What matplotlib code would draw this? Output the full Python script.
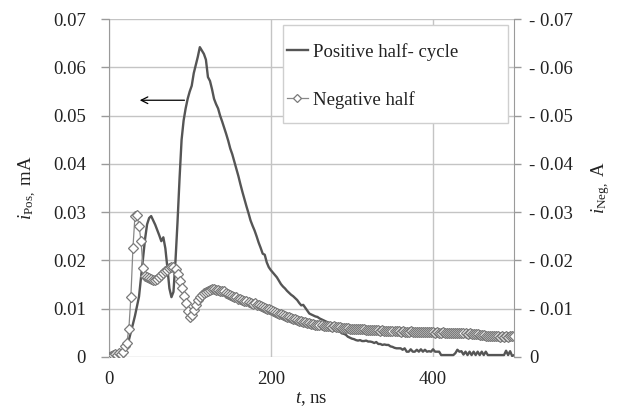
import numpy as np
import matplotlib
matplotlib.use("Agg")
import matplotlib.pyplot as plt
from matplotlib.ticker import FuncFormatter
from matplotlib.patches import Rectangle

plt.rcParams['font.family'] = ['Liberation Serif', 'DejaVu Serif']
plt.rcParams['mathtext.fontset'] = 'custom'
plt.rcParams['mathtext.rm'] = 'Liberation Serif'
plt.rcParams['mathtext.it'] = 'Liberation Serif:italic'

# sampling time, ns (2.5 ns step)
t_ns = np.arange(0, 500.01, 2.5)

# positive half-cycle current
i_pos = [
    0, 0.0002, 0.0004, 0.0005, 0.0005, 0.0007, 0.0008, 0.001, 0.0015, 0.0022,
    0.0035, 0.0052, 0.0068, 0.0085, 0.0105, 0.0125, 0.0165, 0.0205, 0.0245, 0.0275,
    0.0288, 0.0292, 0.0283, 0.0274, 0.0263, 0.0252, 0.024, 0.0248, 0.0225, 0.0185,
    0.0142, 0.0124, 0.0135, 0.02, 0.028, 0.037, 0.045, 0.049, 0.0515, 0.0535,
    0.055, 0.0562, 0.0588, 0.0605, 0.0622, 0.0642, 0.0635, 0.0628, 0.0616, 0.058,
    0.0572, 0.0555, 0.0535, 0.0524, 0.0515, 0.05, 0.0488, 0.0475, 0.0462, 0.0448,
    0.0432, 0.042, 0.0405, 0.039, 0.0375, 0.0358, 0.0342, 0.0327, 0.0312, 0.0298,
    0.0283, 0.0272, 0.0262, 0.025, 0.0237, 0.0226, 0.0214, 0.0212, 0.0196, 0.0186,
    0.018, 0.0175, 0.017, 0.0165, 0.0158, 0.0151, 0.0146, 0.0142, 0.0137, 0.0133,
    0.0129, 0.0126, 0.0122, 0.0118, 0.0112, 0.0107, 0.0108, 0.0102, 0.0096, 0.009,
    0.0088, 0.0086, 0.0084, 0.0083, 0.008, 0.0078, 0.0076, 0.0074, 0.0072, 0.007,
    0.0068, 0.0066, 0.0058, 0.0054, 0.0053, 0.0049, 0.0048, 0.0046, 0.0042, 0.004,
    0.0038, 0.0037, 0.0035, 0.0034, 0.0035, 0.0033, 0.0033, 0.0034, 0.0032, 0.0032,
    0.0031, 0.0029, 0.0031, 0.0027, 0.0027, 0.0025, 0.0026, 0.0025, 0.0025, 0.0022,
    0.0021, 0.0019, 0.0018, 0.0018, 0.0018, 0.0015, 0.0018, 0.0011, 0.0011, 0.0016,
    0.0011, 0.0011, 0.0015, 0.0011, 0.0016, 0.0011, 0.0015, 0.0011, 0.0012, 0.0011,
    0.0016, 0.0011, 0.0011, 0.0011, 0.0004, 0.0004, 0.0004, 0.0004, 0.0004, 0.0004,
    0.0004, 0.0008, 0.0015, 0.0011, 0.0012, 0.0005, 0.0011, 0.0004, 0.0011, 0.0004,
    0.0011, 0.0004, 0.0011, 0.0004, 0.0011, 0.0004, 0.0011, 0.0004, 0.0004, 0.0004,
    0.0004, 0.0004, 0.0004, 0.0004, 0.0004, 0.0004, 0.0013, 0.0004, 0.0012, 0.0002,
    0.0004,
]

# negative half-cycle current (magnitude)
i_neg = [
    0, 0.0002, 0.0005, 0.0006, 0.0005, 0.0008, 0.0007, 0.001, 0.0022, 0.003,
    0.0058, 0.0125, 0.0225, 0.0292, 0.0295, 0.0272, 0.024, 0.0185, 0.0168, 0.0165,
    0.0164, 0.0162, 0.0159, 0.016, 0.0162, 0.0166, 0.0169, 0.0174, 0.0178, 0.0181,
    0.0184, 0.0186, 0.0186, 0.0183, 0.0172, 0.0158, 0.0142, 0.0126, 0.0112, 0.0096,
    0.0083, 0.0086, 0.0098, 0.0108, 0.0118, 0.0125, 0.0129, 0.0132, 0.0135, 0.0137,
    0.0139, 0.014, 0.014, 0.0139, 0.0138, 0.0137, 0.0136, 0.0137, 0.0133, 0.013,
    0.0128, 0.0126, 0.0125, 0.0124, 0.0121, 0.012, 0.0118, 0.0116, 0.0115, 0.0113,
    0.0112, 0.011, 0.0111, 0.0108, 0.0107, 0.0106, 0.0104, 0.0102, 0.01, 0.0099,
    0.0097, 0.0096, 0.0094, 0.0092, 0.009, 0.0089, 0.0087, 0.0085, 0.0083, 0.0082,
    0.0081, 0.0079, 0.0078, 0.0077, 0.0075, 0.0074, 0.0073, 0.0072, 0.0071, 0.007,
    0.0069, 0.0068, 0.0067, 0.0067, 0.0066, 0.0066, 0.0065, 0.0065, 0.0064, 0.0064,
    0.0063, 0.0064, 0.0063, 0.0062, 0.0062, 0.0061, 0.0061, 0.006, 0.006, 0.0059,
    0.0059, 0.0058, 0.0059, 0.0058, 0.0057, 0.0057, 0.0057, 0.0056, 0.0056, 0.0056,
    0.0055, 0.0056, 0.0055, 0.0055, 0.0054, 0.0055, 0.0054, 0.0054, 0.0054, 0.0053,
    0.0054, 0.0053, 0.0053, 0.0053, 0.0052, 0.0053, 0.0052, 0.0052, 0.0052, 0.0053,
    0.0052, 0.0052, 0.0051, 0.0052, 0.0051, 0.0051, 0.0051, 0.0052, 0.0051, 0.0051,
    0.0051, 0.005, 0.0051, 0.005, 0.005, 0.0051, 0.005, 0.005, 0.005, 0.0049,
    0.005, 0.0049, 0.0049, 0.005, 0.0049, 0.0049, 0.0049, 0.0048, 0.0049, 0.0048,
    0.0048, 0.0048, 0.0047, 0.0046, 0.0045, 0.0045, 0.0044, 0.0044, 0.0043, 0.0043,
    0.0044, 0.0043, 0.0043, 0.0042, 0.0043, 0.0042, 0.0043, 0.0042, 0.0043, 0.0043,
    0.0044,
]

x_ticks = [0, 200, 400]
y_ticks = [0, 0.01, 0.02, 0.03, 0.04, 0.05, 0.06, 0.07]

FS = 13.5
TXT = '#222222'
GRID = '#c4c4c4'
SPINE = '#9a9a9a'

W, H = 624, 413
fig = plt.figure(figsize=(W / 100, H / 100), dpi=100)
ax = fig.add_axes([0.174, 0.1356, 0.650, 0.818])
ax2 = ax.twinx()

ax.plot(t_ns, i_pos, color='#555555', lw=1.7, zorder=3, label='Positive half- cycle')
ax2.plot(t_ns, -np.asarray(i_neg), color='#888888', lw=0.9,
         marker='D', markersize=5.3, markerfacecolor='white',
         markeredgecolor='#7a7a7a', markeredgewidth=0.9,
         label='Negative half')

ax.set_xlim(0, 500)
ax.set_ylim(0, 0.07)
ax2.set_ylim(0, -0.07)

ax.set_xticks(x_ticks)
ax.set_yticks(y_ticks)
ax2.set_yticks([-v for v in y_ticks])
ax.yaxis.set_major_formatter(FuncFormatter(lambda v, p: '0' if abs(v) < 1e-9 else f'{v:.2f}'))
ax2.yaxis.set_major_formatter(FuncFormatter(lambda v, p: '0' if abs(v) < 1e-9 else f'- {abs(v):.2f}'))

ax.grid(True, color=GRID, lw=1.0)
ax.set_axisbelow(True)

for a in (ax, ax2):
    for s in a.spines.values():
        s.set_visible(False)
ax.spines['left'].set_visible(True)
ax.spines['left'].set_color(SPINE)
ax2.spines['right'].set_visible(True)
ax2.spines['right'].set_color(SPINE)

ax.tick_params(axis='y', direction='out', length=6, width=1, color=SPINE,
               pad=10.5, labelsize=FS, labelcolor=TXT)
ax.tick_params(axis='x', length=0, pad=10, labelsize=FS, labelcolor=TXT)
ax2.tick_params(axis='y', direction='out', length=5, width=1, color=SPINE,
                pad=5.5, labelsize=FS, labelcolor=TXT)

ax.set_xlabel('$t$, ns', fontsize=FS, color=TXT, labelpad=2)
ax.set_ylabel(r'$i_{\mathrm{Pos},}$ mA', fontsize=FS, color=TXT, labelpad=10)
ax2.set_ylabel(r'$i_{\mathrm{Neg},}$ A', fontsize=FS, color=TXT, labelpad=12)

# arrow indicating which axis the positive curve belongs to
ax.annotate('', xy=(35, 0.0532), xytext=(97, 0.0532),
            arrowprops=dict(arrowstyle='->', color='black', lw=0.9,
                            mutation_scale=12))

# legend box
box = Rectangle((283 / W, 1 - 123 / H), 225 / W, 98 / H, transform=fig.transFigure,
                facecolor='white', edgecolor='#cfcfcf', lw=1.0, zorder=5)
ax2.add_patch(box)

h1, l1 = ax.get_legend_handles_labels()
h2, l2 = ax2.get_legend_handles_labels()
leg = ax2.legend(h1 + h2, l1 + l2, loc='upper left',
                 bbox_to_anchor=(287 / W, 1 - 43 / H), bbox_transform=fig.transFigure,
                 fontsize=FS, frameon=False, handlelength=1.1, handletextpad=0.3,
                 labelspacing=1.6, borderpad=0, borderaxespad=0, markerscale=0.8)
leg.set_zorder(6)
for txt in leg.get_texts():
    txt.set_color(TXT)

fig.savefig('out.png', dpi=100)
